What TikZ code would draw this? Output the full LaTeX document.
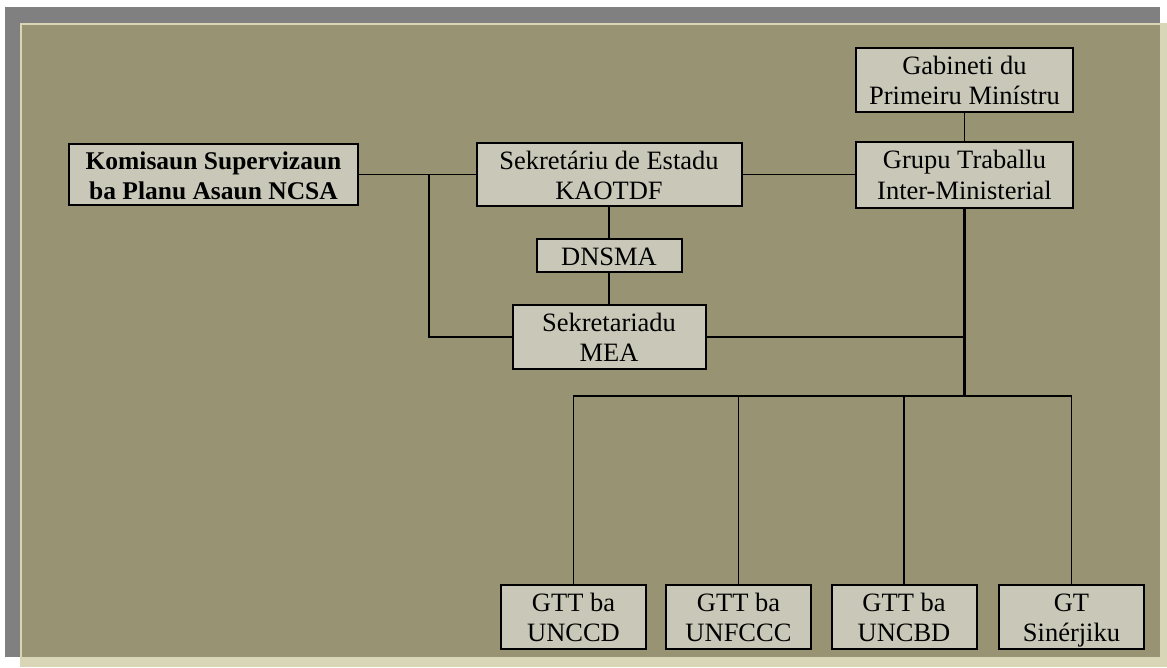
\documentclass[tikz,border=0pt]{standalone}
\usepackage{fontspec}
\setmainfont{Liberation Serif}
\definecolor{shadowgray}{HTML}{808080}
\definecolor{framebeige}{HTML}{D9D6B7}
\definecolor{panelolive}{HTML}{979373}
\definecolor{boxfill}{HTML}{C9C8B8}
\newcommand{\mystrut}{\rule{0pt}{24.5pt}\rule[-5.5pt]{0pt}{5.5pt}}
\tikzset{
  orgbox/.style={draw=black, line width=2pt, fill=boxfill, inner sep=0pt, align=center,
    font=\fontsize{26.5}{30}\selectfont},
  boldbox/.style={orgbox, font=\fontsize{25.5}{30}\selectfont\bfseries},
  link/.style={draw=black, line width=1.6pt},
  thicklink/.style={draw=black, line width=3pt}
}
\begin{document}
\begin{tikzpicture}[x=1pt,y=-1pt]
\useasboundingbox (0,0) rectangle (1167,667);
\fill[white] (0,0) rectangle (1167,667);
\fill[shadowgray] (5,7) rectangle (1160,657);
\fill[framebeige] (20,23) rectangle (1167,667);
\fill[panelolive] (22,25) rectangle (1160,657);

\node[orgbox, minimum width=217pt, minimum height=64pt] (gab) at (964.5,80) {\mystrut Gabineti du\\\mystrut Primeiru Minístru};
\node[orgbox, minimum width=217pt, minimum height=66pt] (gru) at (964.5,174.5) {\mystrut Grupu Traballu\\\mystrut Inter-Ministerial};
\node[orgbox, minimum width=265pt, minimum height=63pt] (sek) at (609,174.5) {\mystrut Sekretáriu de Estadu\\\mystrut KAOTDF};
\node[boldbox, minimum width=289pt, minimum height=61pt] (kom) at (213.5,174.5) {\mystrut Komisaun Supervizaun\\\mystrut ba Planu Asaun NCSA};
\node[orgbox, minimum width=145pt, minimum height=33pt] (dns) at (609,255.5) {\mystrut DNSMA};
\node[orgbox, minimum width=193pt, minimum height=64pt] (mea) at (609,337) {\mystrut Sekretariadu\\\mystrut MEA};
\node[orgbox, minimum width=145pt, minimum height=64pt] (g1) at (573.5,617) {\mystrut GTT ba\\\mystrut UNCCD};
\node[orgbox, minimum width=145pt, minimum height=64pt] (g2) at (738.5,617) {\mystrut GTT ba\\\mystrut UNFCCC};
\node[orgbox, minimum width=145pt, minimum height=64pt] (g3) at (904,617) {\mystrut GTT ba\\\mystrut UNCBD};
\node[orgbox, minimum width=145pt, minimum height=64pt] (g4) at (1071.5,617) {\mystrut GT\\\mystrut Sinérjiku};

\coordinate (j1) at (429,174.5);
\coordinate (busc) at (gru.south |- 0,396);
\coordinate (meaj) at (gru.south |- mea.east);
\coordinate (busl) at (g1.north |- 0,396);
\coordinate (busr) at (g4.north |- 0,396);

\draw[link] (kom.east) -- (sek.west);
\draw[link] (j1) |- (mea.west);
\draw[link] (sek.east) -- (gru.west);
\draw[link] (gab.south) -- (gru.north);
\draw[link] (sek.south) -- (dns.north);
\draw[link] (dns.south) -- (mea.north);
\draw[link] (mea.east) -- (meaj);
\draw[thicklink] (gru.south) -- (busc);
\draw[link, line cap=rect] (busl) -- (busr);
\foreach \g in {g1,g2,g3,g4}{
  \draw[link] (\g.north |- busc) -- (\g.north);
}
\end{tikzpicture}
\end{document}
